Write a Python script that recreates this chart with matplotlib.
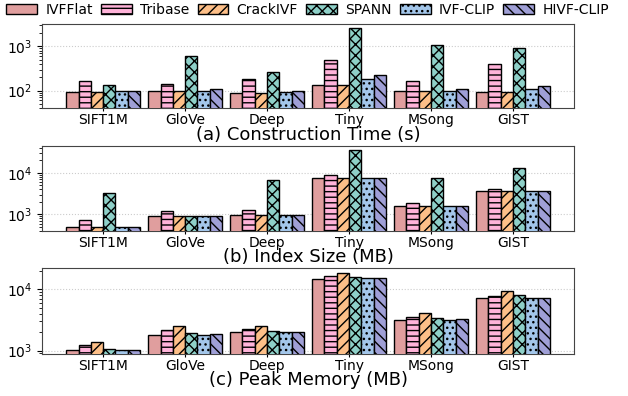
import numpy as np
import matplotlib.pyplot as plt
from matplotlib.patches import Patch

# --- data ---
datasets = ['SIFT1M', 'GloVe', 'Deep', 'Tiny', 'MSong', 'GIST']
methods = ['IVFFlat', 'Tribase', 'CrackIVF', 'SPANN', 'IVF-CLIP', 'HIVF-CLIP']

build_time = {
    'IVFFlat':   [92, 98, 90, 136, 98, 95],
    'Tribase':   [161, 138, 183, 494, 165, 402],
    'CrackIVF':  [92, 97, 90, 136, 98, 95],
    'SPANN':     [134, 607, 270, 2600, 1070, 900],
    'IVF-CLIP':  [96, 100, 95, 183, 100, 109],
    'HIVF-CLIP': [99, 109, 100, 224, 109, 125],
}
index_size = {
    'IVFFlat':   [498, 915, 967, 7470, 1590, 3700],
    'Tribase':   [746, 1230, 1250, 8810, 1910, 4070],
    'CrackIVF':  [498, 915, 967, 7470, 1590, 3700],
    'SPANN':     [3310, 915, 6680, 35000, 7470, 12970],
    'IVF-CLIP':  [498, 915, 967, 7470, 1590, 3700],
    'HIVF-CLIP': [498, 915, 967, 7470, 1590, 3700],
}
peak_mem = {
    'IVFFlat':   [1040, 1815, 2010, 14860, 3180, 7310],
    'Tribase':   [1240, 2135, 2250, 16440, 3460, 7700],
    'CrackIVF':  [1400, 2510, 2540, 18150, 4080, 9270],
    'SPANN':     [1065, 1960, 2110, 15840, 3390, 7890],
    'IVF-CLIP':  [1025, 1800, 2030, 15060, 3180, 7310],
    'HIVF-CLIP': [1025, 1860, 2030, 15060, 3260, 7310],
}
panel_titles = ['(a) Construction Time (s)', '(b) Index Size (MB)', '(c) Peak Memory (MB)']
panel_ylims = [(40, 3200), (400, 44000), (880, 22000)]

colors = ['#e09e9e', '#ffb3d9', '#fdbf88', '#8ed0c8', '#a3c6ea', '#9f9fd6']
hatches = ['', '---', '///', 'xxx', '...', '\\\\\\']

plt.rcParams['hatch.linewidth'] = 1.0
fig = plt.figure(figsize=(6.28, 3.96), dpi=100)

boxes = [(0.067, 0.727, 0.847, 0.212),
         (0.067, 0.417, 0.847, 0.214),
         (0.067, 0.106, 0.847, 0.217)]

x = np.arange(len(datasets))
w = 0.15

for box, data, title, ylim in zip(boxes, [build_time, index_size, peak_mem], panel_titles, panel_ylims):
    ax = fig.add_axes(box)
    for i, m in enumerate(methods):
        ax.bar(x + (i - 2.5) * w, data[m], w, color=colors[i], hatch=hatches[i],
               edgecolor='black', linewidth=1.0, zorder=3)
    ax.set_yscale('log')
    ax.set_ylim(*ylim)
    ax.set_xticks(x)
    ax.set_xticklabels(datasets, fontsize=10)
    ax.tick_params(axis='y', labelsize=10)
    ax.tick_params(axis='x', length=2, pad=1.5)
    ax.set_xlabel(title, fontsize=13, labelpad=-1)
    ax.grid(axis='y', which='major', linestyle=':', color='#cccccc', zorder=0)
    for s in ax.spines.values():
        s.set_color('#444444')

handles = [Patch(facecolor=colors[i], edgecolor='black', hatch=hatches[i], label=m)
           for i, m in enumerate(methods)]
fig.legend(handles=handles, loc='center', bbox_to_anchor=(0.49, 0.975), ncol=6,
           frameon=False, fontsize=10, handlelength=2.2, handletextpad=0.6,
           columnspacing=0.6, handleheight=0.8)

fig.savefig('out.png', dpi=100)
